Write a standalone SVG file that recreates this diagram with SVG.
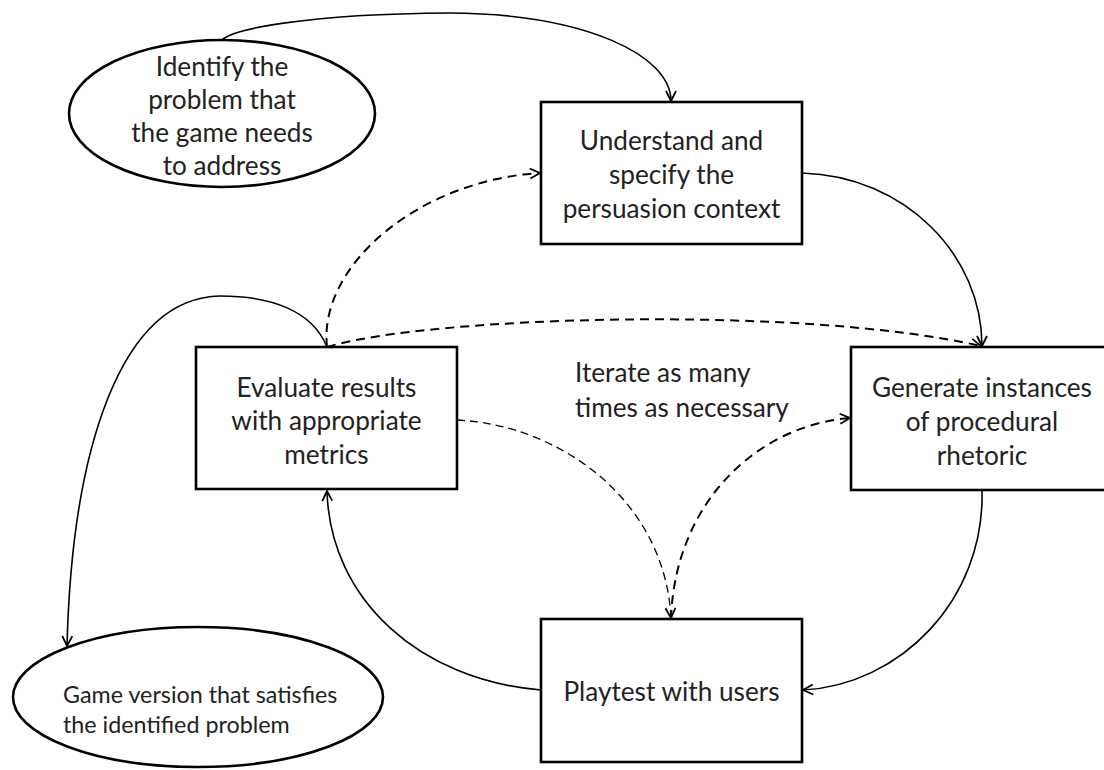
<svg xmlns="http://www.w3.org/2000/svg" width="1104" height="770" viewBox="0 0 1104 770">
<style>
  .shape { fill: #ffffff; stroke: #000000; stroke-width: 2.6; }
  .lbl { font-family: Lato, "Open Sans", "Liberation Sans", sans-serif; font-size: 26.2px; fill: #222222; text-anchor: middle; }
  .lbl-s { font-family: Lato, "Open Sans", "Liberation Sans", sans-serif; font-size: 23.3px; fill: #222222; }
  .conn { fill: none; stroke: #000000; stroke-width: 1.6; }
  .dash { fill: none; stroke: #000000; stroke-width: 2; stroke-dasharray: 9 6; }
  .dash-thin { fill: none; stroke: #000000; stroke-width: 1.3; stroke-dasharray: 8 5; }
</style>
<defs>
  <marker id="arrow" markerUnits="userSpaceOnUse" markerWidth="14" markerHeight="14" refX="11" refY="6" orient="auto">
    <path d="M1,1 L11,6 L1,11" fill="none" stroke="#000000" stroke-width="1.8"/>
  </marker>
</defs>
<rect width="1104" height="770" fill="#ffffff"/>

<g id="connectors">
  <!-- identify -> understand -->
  <path class="conn" d="M222,40 C 232,30 300,14 450,13 C 585,14 671,55 671,101" marker-end="url(#arrow)"/>
  <!-- understand -> generate -->
  <path class="conn" d="M802,173 C 905,176 982,255 982,346" marker-end="url(#arrow)"/>
  <!-- evaluate -> understand (dashed) -->
  <path class="dash" d="M327,347 C 318,265 420,180 540,173" marker-end="url(#arrow)"/>
  <!-- evaluate -> generate (dashed) -->
  <path class="dash" d="M327,347 C 430,316 800,305 981,346" marker-end="url(#arrow)"/>
  <!-- evaluate -> game version -->
  <path class="conn" d="M327,347 C 312,310 270,296 220,296 C 120,298 72,450 67,646" marker-end="url(#arrow)"/>
  <!-- playtest -> evaluate -->
  <path class="conn" d="M541,690 C 420,680 330,600 327,491" marker-end="url(#arrow)"/>
  <!-- generate -> playtest -->
  <path class="conn" d="M982,490 C 985,600 900,685 803,690" marker-end="url(#arrow)"/>
  <!-- evaluate -> playtest (dashed thin) -->
  <path class="dash-thin" d="M457,420 C 560,425 665,500 671,618" marker-end="url(#arrow)"/>
  <!-- playtest -> generate (dashed) -->
  <path class="dash" d="M671,619 C 675,500 760,425 850,418" marker-end="url(#arrow)"/>
</g>

<g id="node-identify">
  <ellipse class="shape" cx="222" cy="113.5" rx="153" ry="73.5"/>
  <text class="lbl" x="222" y="76">Identify the</text>
  <text class="lbl" x="222" y="109">problem that</text>
  <text class="lbl" x="222" y="142">the game needs</text>
  <text class="lbl" x="222" y="175">to address</text>
</g>

<g id="node-understand">
  <rect class="shape" x="541" y="102" width="261" height="142"/>
  <text class="lbl" x="671.5" y="150">Understand and</text>
  <text class="lbl" x="671.5" y="184">specify the</text>
  <text class="lbl" x="671.5" y="218">persuasion context</text>
</g>

<g id="node-evaluate">
  <rect class="shape" x="196" y="347" width="261" height="142"/>
  <text class="lbl" x="326.5" y="397">Evaluate results</text>
  <text class="lbl" x="326.5" y="430">with appropriate</text>
  <text class="lbl" x="326.5" y="464">metrics</text>
</g>

<g id="node-generate">
  <rect class="shape" x="851" y="347" width="262" height="143"/>
  <text class="lbl" x="982" y="397">Generate instances</text>
  <text class="lbl" x="982" y="431">of procedural</text>
  <text class="lbl" x="982" y="465">rhetoric</text>
</g>

<g id="node-playtest">
  <rect class="shape" x="541" y="619" width="261" height="143"/>
  <text class="lbl" x="671.5" y="701">Playtest with users</text>
</g>

<g id="node-gameversion">
  <ellipse class="shape" cx="198" cy="697" rx="185" ry="70"/>
  <text class="lbl-s" x="63" y="703">Game version that satisfies</text>
  <text class="lbl-s" x="63" y="733">the identified problem</text>
</g>

<g id="label-iterate">
  <text class="lbl" x="575" y="382" style="text-anchor:start">Iterate as many</text>
  <text class="lbl" x="575" y="417" style="text-anchor:start">times as necessary</text>
</g>
</svg>
